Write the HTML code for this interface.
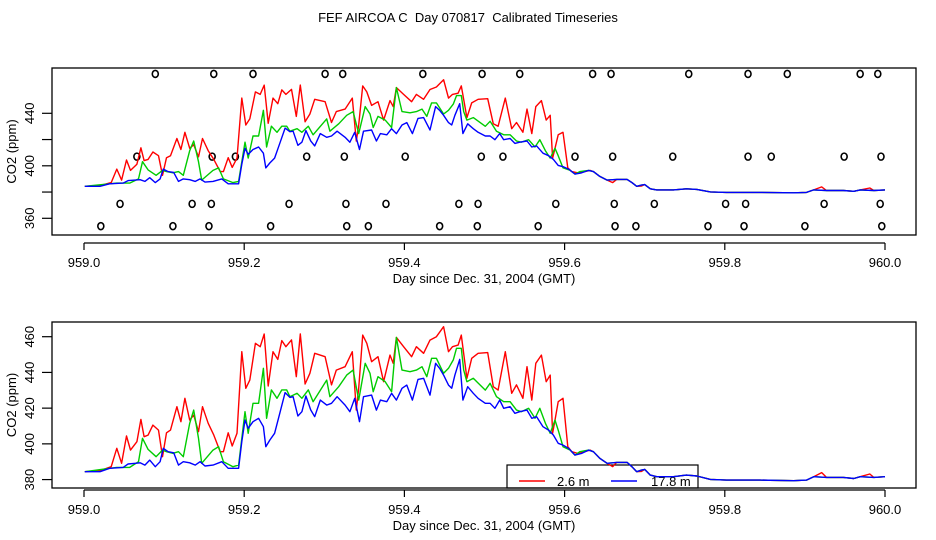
<!DOCTYPE html>
<html><head><meta charset="utf-8"><style>
html,body{margin:0;padding:0;background:#fff;}
svg{display:block;font-family:"Liberation Sans",sans-serif;}
</style></head><body>
<svg id="chart" width="936" height="540" viewBox="0 0 936 540">
<rect width="936" height="540" fill="#fff"/>
<text x="468" y="22" text-anchor="middle" font-size="13" style="white-space:pre" xml:space="preserve">FEF AIRCOA C  Day 070817  Calibrated Timeseries</text>
<g id="top"></g>
<g id="bot"></g>
</svg>
<script>
const NS="http://www.w3.org/2000/svg";
// ---- data ----
const tailTime=[959.605,959.613,959.619,959.630,959.636,959.644,959.653,959.665,959.678,959.684,959.690,959.696,959.700,959.707,959.715,959.736,959.752,959.765,959.782,959.802,959.844,959.886,959.902,959.911,959.927,959.948,959.961,959.969,959.986,960.000];
const tailCo2=[397.5,393.7,395.6,396.5,395.6,391.9,389.1,389.6,389.6,387.2,384.4,385.3,385.7,382.5,381.6,381.6,382.5,382.0,380.1,379.7,379.7,379.4,379.7,381.6,381.2,381.2,380.6,381.6,381.2,381.6];
const redTime=[959.001,959.020,959.034,959.041,959.047,959.053,959.058,959.066,959.071,959.075,959.080,959.086,959.093,959.098,959.103,959.108,959.116,959.121,959.126,959.132,959.137,959.143,959.148,959.155,959.162,959.170,959.174,959.180,959.185,959.191,959.197,959.202,959.207,959.214,959.220,959.225,959.230,959.236,959.242,959.247,959.252,959.259,959.265,959.270,959.276,959.282,959.288,959.301,959.309,959.315,959.326,959.335,959.340,959.343,959.348,959.353,959.359,959.367,959.374,959.382,959.386,959.390,959.399,959.409,959.415,959.424,959.432,959.440,959.449,959.455,959.460,959.467,959.471,959.478,959.484,959.492,959.504,959.511,959.517,959.526,959.534,959.540,959.548,959.553,959.559,959.564,959.571,959.577,959.582,959.585,959.588,959.592,959.598,959.604,959.609,959.617,959.632,959.636,959.644,959.653,959.660,959.665,959.678,959.684,959.690,959.696,959.700,959.707,959.715,959.736,959.752,959.765,959.782,959.802,959.844,959.886,959.902,959.911,959.921,959.927,959.948,959.961,959.969,959.981,959.986,960.000];
const redCo2=[384.4,385.0,387.2,397.5,389.1,404.4,396.5,401.2,413.7,404.0,404.9,410.5,407.7,392.8,406.2,407.7,420.8,412.4,425.5,413.3,416.1,406.8,420.8,411.5,404.9,395.6,395.6,406.2,398.8,405.9,451.6,431.1,435.7,456.3,454.4,461.5,432.4,451.6,447.3,457.8,454.4,458.2,437.6,461.5,433.5,439.5,450.7,448.8,433.0,441.3,443.2,451.6,418.9,431.1,460.9,456.3,446.0,448.8,434.8,449.7,445.1,459.6,454.4,448.8,454.4,450.7,458.1,460.0,465.6,451.6,454.4,455.3,460.9,436.7,447.9,450.7,451.1,432.0,430.1,451.6,428.3,433.0,425.5,443.2,424.5,445.1,449.7,434.8,438.5,405.9,413.3,423.6,425.5,398.4,395.6,394.6,396.5,395.6,391.9,389.1,387.2,389.6,389.6,387.2,384.4,384.6,385.7,382.5,381.6,381.6,382.5,382.0,380.1,379.7,379.7,379.4,379.7,381.6,383.9,381.2,381.2,380.6,381.6,383.1,381.2,381.6];
const greenTime=[959.001,959.032,959.041,959.057,959.068,959.073,959.080,959.090,959.098,959.103,959.111,959.118,959.124,959.132,959.137,959.143,959.147,959.161,959.168,959.174,959.186,959.193,959.201,959.205,959.211,959.218,959.224,959.228,959.234,959.241,959.247,959.253,959.257,959.266,959.272,959.280,959.286,959.303,959.307,959.318,959.328,959.336,959.343,959.351,959.357,959.361,959.367,959.376,959.384,959.390,959.397,959.407,959.415,959.422,959.428,959.434,959.440,959.449,959.455,959.461,959.465,959.471,959.474,959.478,959.486,959.501,959.507,959.515,959.524,959.532,959.540,959.546,959.555,959.563,959.569,959.576,959.582,959.588,959.592,959.598,959.607];
const greenCo2=[384.4,386.3,386.8,386.8,390.0,403.1,396.9,392.8,396.5,395.6,394.7,395.6,392.8,411.5,418.9,403.1,389.1,396.5,398.4,390.0,387.2,388.1,418.0,405.9,422.7,422.7,442.3,414.3,430.2,425.5,430.2,430.2,426.4,428.3,425.5,430.2,423.6,435.7,426.4,432.0,438.5,441.3,424.5,445.1,439.5,429.2,437.6,434.8,429.2,459.6,441.3,440.4,441.3,443.2,437.6,447.9,447.9,439.5,442.3,447.0,453.5,453.5,441.3,434.8,436.7,430.1,433.9,426.4,423.6,423.6,418.9,418.0,419.9,414.3,419.9,411.5,405.9,413.3,407.7,398.4,396.5];
const blueTime=[959.001,959.020,959.032,959.049,959.055,959.064,959.070,959.076,959.082,959.089,959.095,959.099,959.105,959.112,959.118,959.124,959.132,959.139,959.145,959.151,959.161,959.172,959.180,959.193,959.197,959.201,959.205,959.211,959.218,959.224,959.227,959.232,959.238,959.245,959.251,959.257,959.261,959.267,959.272,959.277,959.283,959.288,959.295,959.303,959.309,959.316,959.326,959.332,959.338,959.344,959.349,959.359,959.365,959.370,959.378,959.384,959.390,959.397,959.403,959.410,959.417,959.424,959.432,959.439,959.444,959.449,959.455,959.459,959.463,959.469,959.473,959.479,959.486,959.492,959.501,959.507,959.513,959.519,959.524,959.532,959.538,959.544,959.553,959.559,959.565,959.573,959.580,959.586,959.592,959.598,959.605,959.613,959.621,959.630];
const blueCo2=[384.4,384.4,386.3,386.8,388.7,389.1,389.4,388.1,390.9,387.2,390.0,397.5,395.6,395.0,388.1,390.0,389.4,388.1,390.0,387.6,388.1,390.0,386.3,386.3,401.2,413.3,408.7,412.4,414.3,409.6,398.4,402.1,405.9,418.0,428.7,426.0,426.4,415.6,418.0,426.8,419.0,415.2,424.5,421.7,422.7,426.4,421.7,418.0,425.5,412.4,426.4,427.3,418.9,424.5,423.6,428.3,424.5,431.1,432.9,424.5,436.1,436.7,427.3,445.1,442.3,438.5,432.9,431.1,438.5,447.3,424.5,432.0,428.3,425.5,422.7,422.7,419.9,424.5,419.9,420.8,417.1,418.0,418.9,414.3,415.2,409.6,407.7,404.9,400.3,399.3,397.5,393.7,394.6,396.5];
const flagTime=[959.089,959.162,959.211,959.301,959.323,959.423,959.497,959.544,959.635,959.658,959.755,959.829,959.878,959.969,959.991,
959.066,959.160,959.189,959.278,959.325,959.401,959.496,959.523,959.613,959.660,959.735,959.829,959.858,959.949,959.995,
959.045,959.135,959.159,959.256,959.327,959.377,959.468,959.492,959.589,959.662,959.712,959.801,959.826,959.924,959.994,
959.021,959.111,959.156,959.233,959.328,959.355,959.444,959.491,959.567,959.663,959.689,959.779,959.824,959.900,959.996];
const flagLevel=[470,470,470,470,470,470,470,470,470,470,470,470,470,470,470,
407,407,407,407,407,407,407,407,407,407,407,407,407,407,407,
371,371,371,371,371,371,371,371,371,371,371,371,371,371,371,
354,354,354,354,354,354,354,354,354,354,354,354,354,354,354];
const xTicks=[959.0,959.2,959.4,959.6,959.8,960.0];
const xTickLabels=["959.0","959.2","959.4","959.6","959.8","960.0"];
const topYTicks=[360,380,400,420,440];
const topYLabels=["360","","400","","440"];
const botYTicks=[380,400,420,440,460];
const botYLabels=["380","400","420","440","460"];

function mk(tag,attrs,parent){const e=document.createElementNS(NS,tag);for(const k in attrs)e.setAttribute(k,attrs[k]);parent.appendChild(e);return e;}
const xScale=t=>84+(t-959)*801;

function drawPanel(g,boxTop,boxBot,yScale,yTicks,yLabels,axisY,withFlags,withLegend){
  const rect=mk('rect',{x:52,y:boxTop,width:864,height:boxBot-boxTop,fill:'none',stroke:'#000','stroke-width':1.3},g);
  
  
  const xa=mk('line',{x1:xScale(xTicks[0]),x2:xScale(xTicks[xTicks.length-1]),y1:axisY,y2:axisY,stroke:'#000','stroke-width':1.2},g);
  
  
  xTicks.forEach((t,i)=>{
    const tk=mk('line',{x1:xScale(t),x2:xScale(t),y1:axisY,y2:axisY+7,stroke:'#000','stroke-width':1.2},g);
    
    
    const lb=mk('text',{x:xScale(t),y:axisY+24,'text-anchor':'middle','font-size':13},g);
    lb.textContent=xTickLabels[i];
    
    
  });
  const xt=mk('text',{x:484,y:axisY+40,'text-anchor':'middle','font-size':13},g);
  xt.textContent='Day since Dec. 31, 2004 (GMT)';
  
  
  yTicks.forEach((v,i)=>{
    const y=yScale(v);
    const tk=mk('line',{x1:42,x2:52,y1:y,y2:y,stroke:'#000','stroke-width':1.2},g);
    
    
    if(yLabels[i]){
      const lb=mk('text',{x:34,y:y,'text-anchor':'middle','font-size':13,transform:`rotate(-90 34 ${y})`},g);
      lb.textContent=yLabels[i];
      
      
    }
  });
  const cy=(boxTop+boxBot)/2;
  const yt=mk('text',{x:16,y:cy,'text-anchor':'middle','font-size':13,transform:`rotate(-90 16 ${cy})`},g);
  yt.textContent='CO2 (ppm)';
  
  
  if(withFlags){
    flagTime.forEach((t,i)=>{
      const c=mk('ellipse',{cx:xScale(t),cy:yScale(flagLevel[i]),rx:3,ry:3.5,fill:'none',stroke:'#000','stroke-width':1.6},g);
      
      
    });
  }
  if(withLegend){
    const lg=mk('g',{},g);
    
    
    mk('rect',{x:507,y:465,width:191,height:23,fill:'none',stroke:'#000','stroke-width':1.2},lg);
    const l1=mk('line',{x1:519,x2:545,y1:481,y2:481,stroke:'#ff0000','stroke-width':1.4},lg);
    
    
    const t1=mk('text',{x:557,y:486,'font-size':13},lg);t1.textContent='2.6 m';
    
    
    const l2=mk('line',{x1:611,x2:637,y1:481,y2:481,stroke:'#0000ff','stroke-width':1.4},lg);
    
    
    const t2=mk('text',{x:651,y:486,'font-size':13},lg);t2.textContent='17.8 m';
    
    
  }
  const series=[[redTime,redCo2,'#ff0000','red-2.6m-line'],[greenTime,greenCo2,'#00cc00','green-mid-line'],[blueTime,blueCo2,'#0000ff','blue-17.8m-line']];
  series.forEach(([ts,vs,col,name])=>{
    let T=ts.slice(),V=vs.slice();
    const last=T[T.length-1];
    tailTime.forEach((t,i)=>{if(t>last){T.push(t);V.push(tailCo2[i]);}});
    const d=T.map((t,i)=>(i?'L':'M')+xScale(t).toFixed(1)+','+yScale(V[i]).toFixed(1)).join('');
    const p=mk('path',{d:d,fill:'none',stroke:col,'stroke-width':1.4,'stroke-linejoin':'round'},g);
    
    
  });
}
drawPanel(document.getElementById('top'),68,235,v=>113.3+(440-v)*1.3125,topYTicks,topYLabels,243,true,false);
drawPanel(document.getElementById('bot'),322,488,v=>336.7+(460-v)*1.786,botYTicks,botYLabels,490,false,true);
</script>
</body></html>
